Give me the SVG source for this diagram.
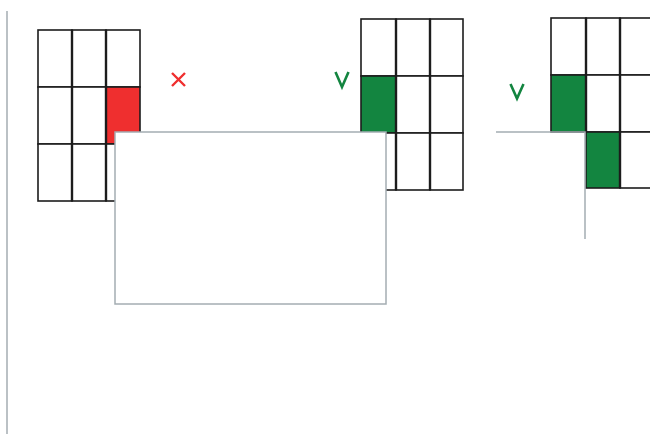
<svg xmlns="http://www.w3.org/2000/svg" width="650" height="434" viewBox="0 0 650 434">
<style>
.cell{fill:#fff;stroke:#1c1c1c;stroke-width:1.6}
.red{fill:#ef2f2f;stroke:#1c1c1c;stroke-width:1.6}
.grn{fill:#138540;stroke:#1c1c1c;stroke-width:1.6}
.vl{stroke:#1c1c1c;stroke-width:2.4}
.ov{fill:#fff;stroke:#a4adb2;stroke-width:1.5}
.ln{fill:none;stroke:#a4adb2;stroke-width:1.5}
.mk-r{fill:none;stroke:#ef2f2f;stroke-width:2.4}
.mk-g{fill:none;stroke:#138540;stroke-width:2.6}
</style>
<rect width="650" height="434" fill="#fff"/>
<line x1="7" y1="11" x2="7" y2="434" class="ln"/>
<g id="grid1">
<rect x="38" y="30" width="34" height="57" class="cell"/>
<rect x="72" y="30" width="34" height="57" class="cell"/>
<rect x="106" y="30" width="34" height="57" class="cell"/>
<rect x="38" y="87" width="34" height="57" class="cell"/>
<rect x="72" y="87" width="34" height="57" class="cell"/>
<rect x="106" y="87" width="34" height="57" class="red"/>
<rect x="38" y="144" width="34" height="57" class="cell"/>
<rect x="72" y="144" width="34" height="57" class="cell"/>
<rect x="106" y="144" width="34" height="57" class="cell"/>
<line x1="72" y1="30" x2="72" y2="201" class="vl"/>
<line x1="106" y1="30" x2="106" y2="201" class="vl"/>
</g>
<g id="mark-x">
<path d="M172 73 L185 86 M185 73 L172 86" class="mk-r"/>
</g>
<g id="grid2">
<rect x="361" y="19" width="35" height="57" class="cell"/>
<rect x="396" y="19" width="34" height="57" class="cell"/>
<rect x="430" y="19" width="33" height="57" class="cell"/>
<rect x="361" y="76" width="35" height="57" class="grn"/>
<rect x="396" y="76" width="34" height="57" class="cell"/>
<rect x="430" y="76" width="33" height="57" class="cell"/>
<rect x="361" y="133" width="35" height="57" class="cell"/>
<rect x="396" y="133" width="34" height="57" class="cell"/>
<rect x="430" y="133" width="33" height="57" class="cell"/>
<line x1="396" y1="19" x2="396" y2="190" class="vl"/>
<line x1="430" y1="19" x2="430" y2="190" class="vl"/>
</g>
<g id="mark-v1">
<path d="M335.5 72 L342 87 L348.5 72" class="mk-g"/>
</g>
<g id="grid3">
<rect x="551" y="18" width="35" height="57" class="cell"/>
<rect x="586" y="18" width="34" height="57" class="cell"/>
<rect x="620" y="18" width="34" height="57" class="cell"/>
<rect x="551" y="75" width="35" height="57" class="grn"/>
<rect x="586" y="75" width="34" height="57" class="cell"/>
<rect x="620" y="75" width="34" height="57" class="cell"/>
<rect x="586" y="132" width="34" height="56" class="grn"/>
<rect x="620" y="132" width="34" height="56" class="cell"/>
<line x1="586" y1="18" x2="586" y2="132" class="vl"/>
<line x1="620" y1="18" x2="620" y2="188" class="vl"/>
</g>
<g id="mark-v2">
<path d="M510.5 84 L517 98.5 L523.5 84" class="mk-g"/>
</g>
<g id="overlay1">
<rect x="115" y="132" width="271" height="172" class="ov"/>
</g>
<g id="overlay2">
<path d="M496 132 L585 132 L585 239" class="ln"/>
</g>
</svg>
